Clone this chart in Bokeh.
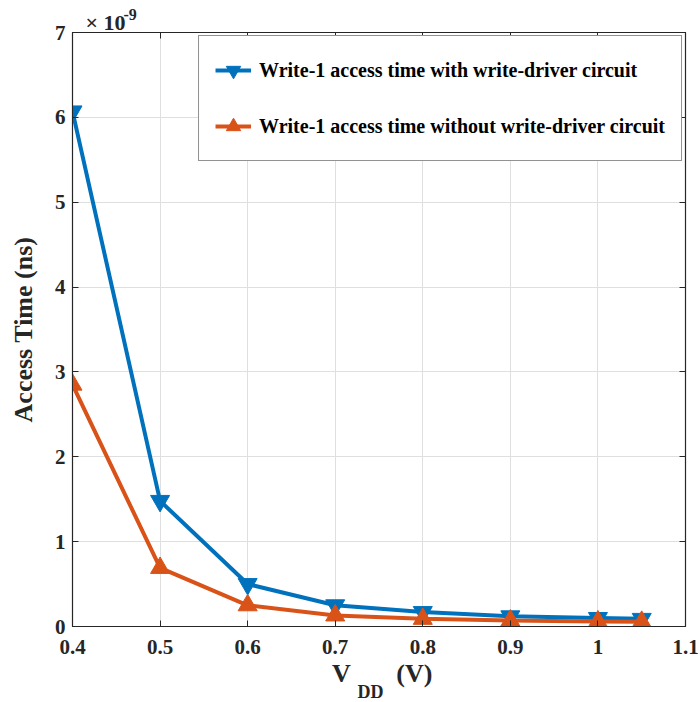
from bokeh.plotting import figure
from bokeh.models import (FixedTicker, CustomJSTickFormatter, Label, LinearAxis, Range1d, Legend, LegendItem)
from bokeh.embed import file_html
from bokeh.resources import INLINE

vdd = [0.4, 0.5, 0.6, 0.7, 0.8, 0.9, 1.0, 1.05]
t_with = [6.07, 1.48, 0.50, 0.25, 0.17, 0.12, 0.10, 0.09]
t_without = [2.85, 0.69, 0.25, 0.13, 0.09, 0.07, 0.06, 0.055]
x_ticks = [0.4, 0.5, 0.6, 0.7, 0.8, 0.9, 1.0, 1.1]
y_ticks = [0, 1, 2, 3, 4, 5, 6, 7]
label_with = "Write-1 access time with write-driver circuit"
label_without = "Write-1 access time without write-driver circuit"
x_title_main = ["V", "(V)"]
x_title_sub = "DD"
y_title = "Access Time (ns)"
y_multiplier = ["\u00d7 10", "-9"]

BLUE = "#0072BD"
ORANGE = "#D95319"
FONT = "Liberation Serif"
INK = "#262626"
NBSP = "\u00a0"

p = figure(width=700, height=702, output_backend="svg", toolbar_location=None,
           x_range=Range1d(0.4, 1.1), y_range=Range1d(0, 7),
           min_border_left=72, min_border_right=15, min_border_top=32, min_border_bottom=76)
p.background_fill_color = "white"
p.border_fill_color = "white"
p.outline_line_color = INK
p.outline_line_width = 1.2

for ax in (p.xaxis[0], p.yaxis[0]):
    ax.major_label_text_font = FONT
    ax.major_label_text_font_style = "bold"
    ax.major_label_text_font_size = "21px"
    ax.major_label_text_color = INK
    ax.axis_line_color = INK
    ax.major_tick_line_color = INK
    ax.major_tick_in = 6
    ax.major_tick_out = 0
    ax.minor_tick_line_color = None
    ax.axis_label_text_font = FONT
    ax.axis_label_text_font_style = "bold"
    ax.axis_label_text_font_size = "26px"
    ax.axis_label_text_color = INK

p.xaxis.ticker = FixedTicker(ticks=x_ticks)
p.xaxis.formatter = CustomJSTickFormatter(code="return (Math.round(tick*10)/10).toString();")
p.xaxis.major_label_standoff = 13
p.yaxis.ticker = FixedTicker(ticks=y_ticks)
p.yaxis.major_label_standoff = 7
p.yaxis.axis_label = y_title
p.yaxis.axis_label_standoff = 14

# mirrored tick marks on top and right (MATLAB box style)
for loc in ("above", "right"):
    ax = LinearAxis(ticker=FixedTicker(ticks=x_ticks if loc == "above" else y_ticks),
                    formatter=CustomJSTickFormatter(code="return '';"),
                    major_label_text_font_size="1px", major_tick_in=6, major_tick_out=0,
                    minor_tick_line_color=None, axis_line_color=INK,
                    major_tick_line_color=INK, major_label_standoff=0)
    p.add_layout(ax, loc)

# x-axis title "V_DD (V)": subscript as a tick label, main text as the axis label
sub_x = 0.4 + (370 - 72) / 875.7
xt = LinearAxis(ticker=FixedTicker(ticks=[sub_x]),
                formatter=CustomJSTickFormatter(args=dict(s=x_title_sub), code="return s;"),
                axis_line_color=None, major_tick_line_color=None, minor_tick_line_color=None,
                major_tick_in=0, major_tick_out=0, major_label_standoff=25,
                major_label_text_font=FONT, major_label_text_font_style="bold",
                major_label_text_font_size="18px", major_label_text_color=INK,
                axis_label=NBSP + x_title_main[0] + NBSP * 7 + x_title_main[1],
                axis_label_standoff=-46, axis_label_text_font=FONT,
                axis_label_text_font_style="bold", axis_label_text_font_size="26px",
                axis_label_text_color=INK)
p.add_layout(xt, "below")

p.xgrid.ticker = FixedTicker(ticks=x_ticks)
p.ygrid.ticker = FixedTicker(ticks=y_ticks)
p.grid.grid_line_color = "#dfdfdf"
p.grid.grid_line_width = 1

l1 = p.line(vdd, t_with, line_color=BLUE, line_width=4)
m1 = p.scatter(vdd, t_with, marker="inverted_triangle", size=19, fill_color=BLUE, line_color=BLUE)
l2 = p.line(vdd, t_without, line_color=ORANGE, line_width=4)
m2 = p.scatter(vdd, t_without, marker="triangle", size=19, fill_color=ORANGE, line_color=ORANGE)

legend = Legend(items=[LegendItem(label=label_with, renderers=[l1, m1]),
                       LegendItem(label=label_without, renderers=[l2, m2])],
                location="top_right")
legend.label_text_font = FONT
legend.label_text_font_style = "bold"
legend.label_text_font_size = "20px"
legend.label_text_color = "black"
legend.border_line_color = INK
legend.border_line_width = 1.2
legend.glyph_width = 36
legend.glyph_height = 36
legend.spacing = 20
legend.padding = 16
legend.margin = 3
legend.label_standoff = 8
legend.background_fill_alpha = 1.0
p.add_layout(legend)

def txt(x, y, s, size, place):
    p.add_layout(Label(x=x, y=y, x_units="canvas", y_units="canvas", text=s, text_font=FONT,
                       text_font_style="bold", text_font_size=size, text_color=INK,
                       text_baseline="alphabetic"), place)

txt(85, 22, y_multiplier[0], "22px", "above")
txt(123, 14, y_multiplier[1], "16px", "right")

open("out.html", "w").write(file_html(p, INLINE))
